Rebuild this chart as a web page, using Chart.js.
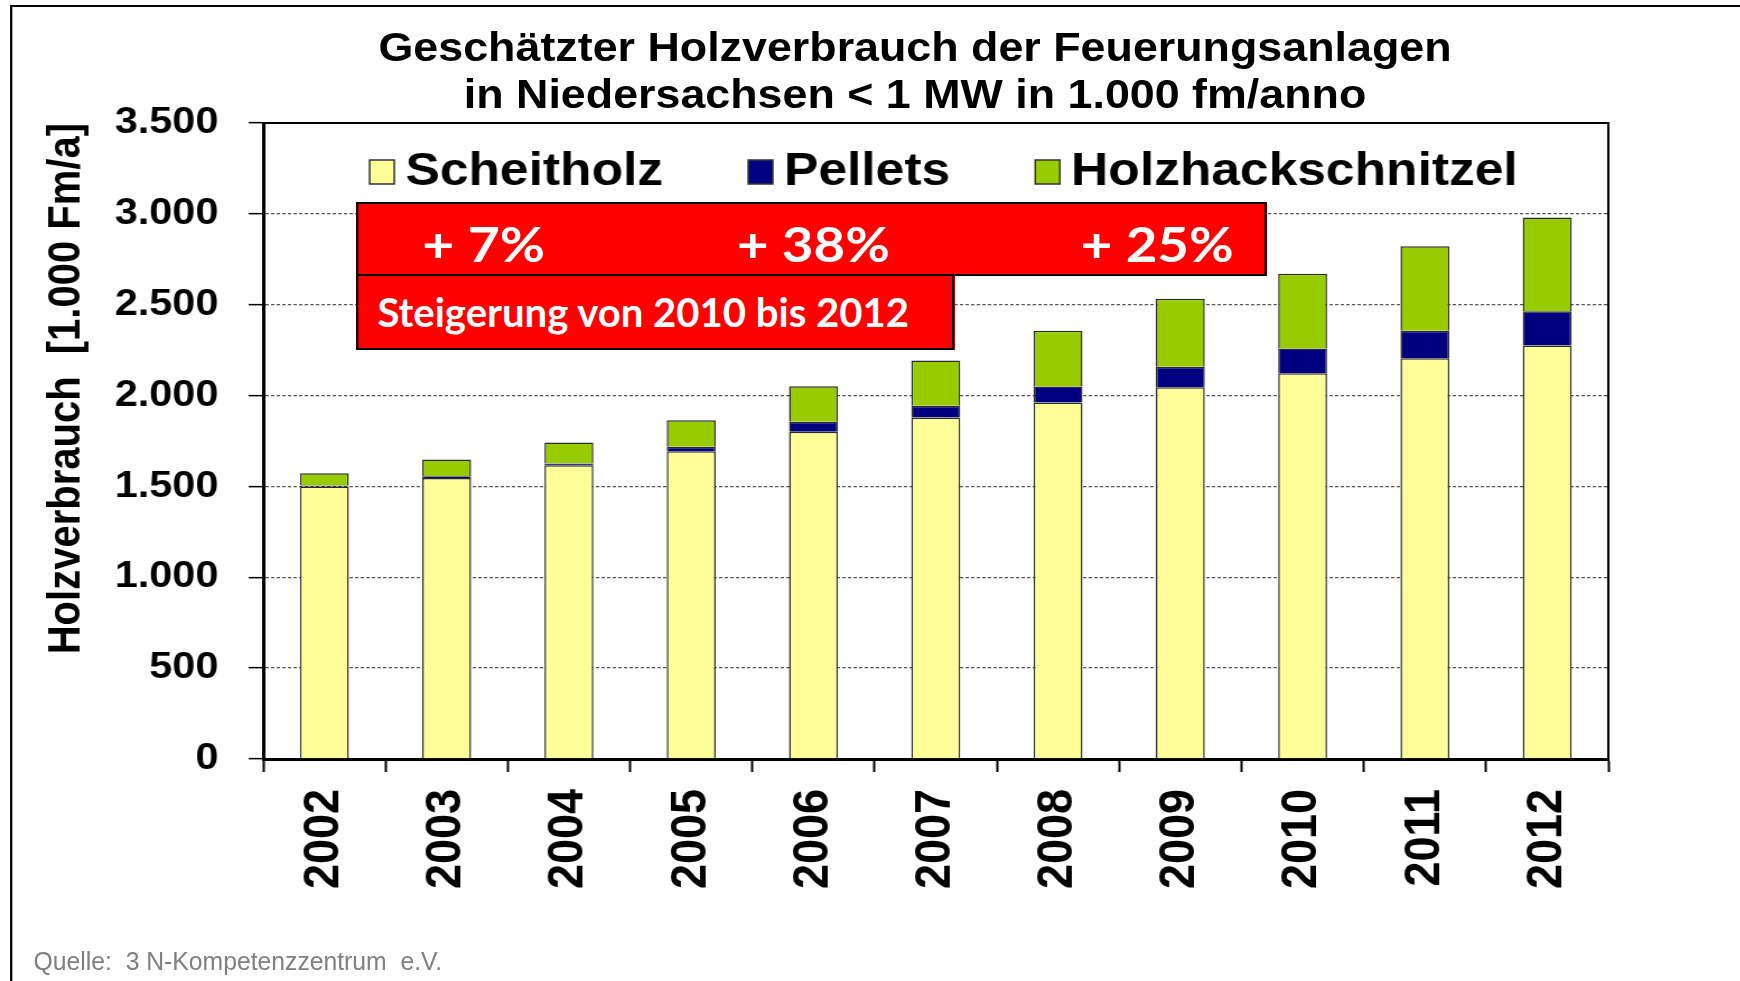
<!DOCTYPE html>
<html lang="de">
<head>
<meta charset="utf-8">
<title>Holzverbrauch Niedersachsen</title>
<script src="https://cdn.jsdelivr.net/npm/chart.js@4.4.1/dist/chart.umd.min.js"></script>
<style>
  html, body { margin: 0; padding: 0; background: #fff; overflow: hidden; }
  /* die Vorlage ist horizontal gestreckt, deshalb alles mit scaleX */
  #seite { position: absolute; left: 0; top: 0; width: 1554px; height: 981px;
           transform: scaleX(1.12); transform-origin: 0 0;
           font-family: "Liberation Sans", Arial, sans-serif; }
  #rahmen { position: absolute; left: 8.5px; top: 5px; width: 1600px; height: 1000px;
            border-left: 2.5px solid #000; border-top: 2px solid #000; }
  #grafik { position: absolute; left: 0; top: 0; }
  #titel { position: absolute; left: 0; top: 24px; width: 1634px; text-align: center;
           font-weight: bold; font-size: 40px; line-height: 47px; color: #000; }
  .rot { position: absolute; background: #ff0000; border: 2px solid #000; box-sizing: border-box; }
  .rtext { position: absolute; display: inline-block; color: #fff; white-space: nowrap;
           font-family: Lato, "Open Sans", sans-serif; font-weight: bold; line-height: 1;
           transform-origin: 0 50%; }
  #quelle { position: absolute; left: 30px; top: 947px; display: inline-block; white-space: nowrap;
            font-size: 26px; line-height: 28px; color: #808080; transform-origin: 0 50%; }
</style>
</head>
<body>
<div id="seite">
  <div id="rahmen"></div>
  <canvas id="grafik" width="1554" height="981"></canvas>
  <div id="titel">Geschätzter Holzverbrauch der Feuerungsanlagen<br>in Niedersachsen &lt; 1 MW in 1.000 fm/anno</div>

  <div class="rot" style="left:318px; top:202px; width:813px; height:74px;"></div>
  <div class="rot" style="left:318px; top:274px; width:534px; height:76px;"></div>
  <span class="rtext" data-w="110" style="left:377px; top:220px; font-size:48px;">+ 7%</span>
  <span class="rtext" data-w="137" style="left:658px; top:220px; font-size:48px;">+ 38%</span>
  <span class="rtext" data-w="137" style="left:965px; top:220px; font-size:48px;">+ 25%</span>
  <span class="rtext" data-w="475" style="left:337px; top:292px; font-size:40px;">Steigerung von 2010 bis 2012</span>

  <span id="quelle" data-w="365">Quelle:&nbsp; 3 N-Kompetenzzentrum&nbsp; e.V.</span>
</div>

<script>
const jahre = ["2002", "2003", "2004", "2005", "2006", "2007", "2008", "2009", "2010", "2011", "2012"];
const scheitholz = [1500, 1547, 1617, 1694, 1801, 1880, 1962, 2046, 2123, 2206, 2276];
const pellets = [5, 9, 9, 24, 55, 64, 88, 112, 136, 151, 188];
const hackschnitzel = [68, 92, 116, 146, 195, 249, 307, 375, 412, 465, 516];
const yMax = 3500;
const ySchritt = 500;
const yTitel = "Holzverbrauch  [1.000 Fm/a]";

const schrift = '"Liberation Sans", Arial, sans-serif';

function tausender(v) {
  return String(v).replace(/\B(?=(\d{3})+(?!\d))/g, ".");
}

// oberer und rechter Rand der Zeichenfläche
const rahmenPlugin = {
  id: "rahmen",
  afterDraw(chart) {
    const { ctx, chartArea: a } = chart;
    ctx.save();
    ctx.strokeStyle = "#000";
    ctx.lineWidth = 2;
    ctx.beginPath();
    ctx.moveTo(a.left, a.top);
    ctx.lineTo(a.right, a.top);
    ctx.lineTo(a.right, a.bottom);
    ctx.stroke();
    ctx.restore();
  }
};

// Legende liegt in der Zeichenfläche
const legendePlugin = {
  id: "legende",
  afterDraw(chart) {
    const { ctx, chartArea: a } = chart;
    ctx.save();
    ctx.font = "bold 46px " + schrift;
    ctx.textBaseline = "middle";
    let x = a.left + 95;
    const y = a.top + 49;
    chart.data.datasets.forEach(ds => {
      ctx.fillStyle = ds.backgroundColor;
      ctx.fillRect(x, y - 12, 22, 24);
      ctx.strokeStyle = "#333";
      ctx.lineWidth = 1.5;
      ctx.strokeRect(x, y - 12, 22, 24);
      x += 22 + 10;
      ctx.fillStyle = "#000";
      ctx.fillText(ds.label, x, y);
      x += ctx.measureText(ds.label).width + 76;
    });
    ctx.restore();
  }
};

new Chart(document.getElementById("grafik"), {
  type: "bar",
  data: {
    labels: jahre,
    datasets: [
      { label: "Scheitholz", data: scheitholz, backgroundColor: "#ffff99" },
      { label: "Pellets", data: pellets, backgroundColor: "#000080" },
      { label: "Holzhackschnitzel", data: hackschnitzel, backgroundColor: "#99cc00" }
    ]
  },
  options: {
    responsive: false,
    animation: false,
    layout: { padding: { left: 0, right: 118, top: 123, bottom: 0 } },
    datasets: {
      bar: { borderColor: "#2b2b2b", borderWidth: 1.5, barPercentage: 0.4, categoryPercentage: 1 }
    },
    plugins: { legend: { display: false }, tooltip: { enabled: false } },
    scales: {
      x: {
        stacked: true,
        afterFit: s => { s.height = 222; },
        grid: { drawOnChartArea: false, tickLength: 13, tickColor: "#000", tickWidth: 2 },
        border: { color: "#000", width: 3 },
        ticks: {
          color: "#000", autoSkip: false, minRotation: 90, maxRotation: 90, padding: 17,
          font: { family: schrift, weight: "bold", size: 45 }
        }
      },
      y: {
        stacked: true,
        min: 0,
        max: yMax,
        afterFit: s => { s.width = 235; },
        grid: { color: "#555", lineWidth: 1.3, tickColor: "#000", tickWidth: 1.5, tickLength: 13, tickBorderDash: [] },
        border: { color: "#000", width: 3, dash: [3, 2] },
        ticks: {
          stepSize: ySchritt, color: "#000", padding: 27,
          font: { family: schrift, weight: "bold", size: 37 },
          callback: v => tausender(v)
        },
        title: {
          display: true, text: yTitel, align: "end", color: "#000",
          font: { family: schrift, weight: "bold", size: 40, lineHeight: 1.2 },
          padding: { top: 36, bottom: 0 }
        }
      }
    }
  },
  plugins: [rahmenPlugin, legendePlugin]
});

// Texte auf die Breite der Vorlage bringen
function anpassen() {
  document.querySelectorAll("[data-w]").forEach(el => {
    el.style.transform = "none";
    const w = el.offsetWidth;
    if (w > 0) el.style.transform = "scaleX(" + (Number(el.dataset.w) / w) + ")";
  });
}
anpassen();
if (document.fonts) document.fonts.ready.then(anpassen);
</script>
</body>
</html>
